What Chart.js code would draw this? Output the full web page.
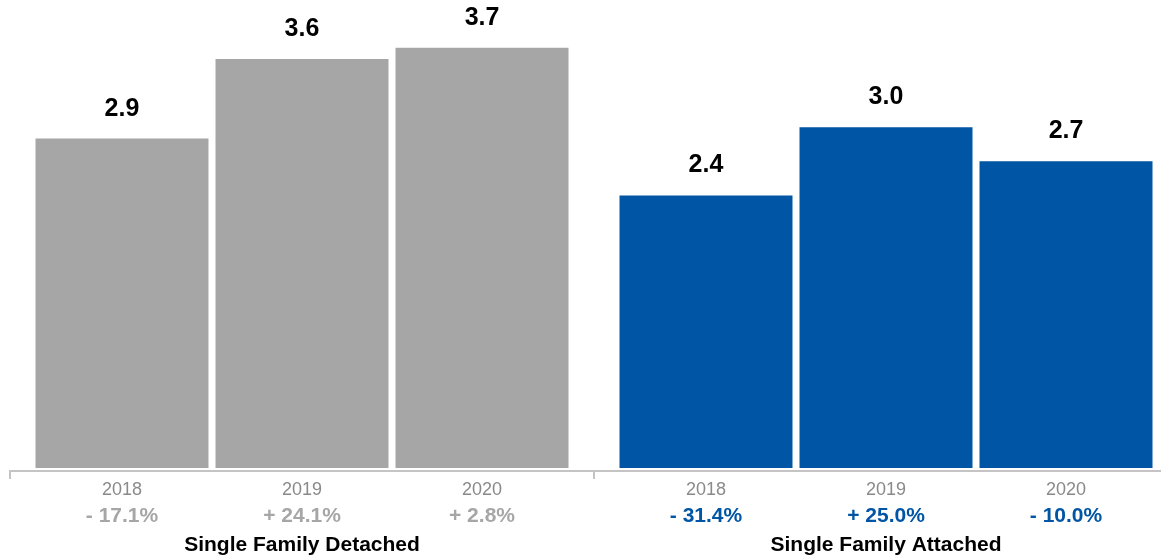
<!DOCTYPE html>
<html>
<head>
<meta charset="utf-8">
<script src="https://cdn.jsdelivr.net/npm/chart.js@4/dist/chart.umd.min.js"></script>
<style>
  html, body { margin: 0; padding: 0; background: #ffffff; }
  #frame { width: 1161px; height: 558px; overflow: hidden; position: relative; }
  #plot { width: 1178px; height: 558px; position: absolute; left: 0; top: 0; }
</style>
</head>
<body>
<div id="frame"><div id="plot"><canvas id="chart"></canvas></div></div>
<script>
// Housing starts by type, with year-over-year change
const groups = ['Single Family Detached', 'Single Family Attached'];
const years = ['2018', '2019', '2020'];
const detached = [2.9, 3.6, 3.7];
const attached = [2.4, 3.0, 2.7];
const detachedChange = ['- 17.1%', '+ 24.1%', '+ 2.8%'];
const attachedChange = ['- 31.4%', '+ 25.0%', '- 10.0%'];

const GRAY = '#a6a6a6';
const BLUE = '#0055a4';
const FONT = '"Liberation Sans", Arial, Helvetica, sans-serif';

const datasets = years.map((yr, i) => ({
  label: yr,
  data: [detached[i], attached[i]],
  backgroundColor: [GRAY, BLUE],
  borderWidth: 0,
  categoryPercentage: 0.9247,
  barPercentage: 0.961
}));

const changes = [detachedChange, attachedChange];
const changeColors = [GRAY, BLUE];

const annotate = {
  id: 'annotate',
  afterDatasetsDraw(chart) {
    const ctx = chart.ctx;
    const area = chart.chartArea;
    const xs = chart.scales.x;
    ctx.save();

    // baseline with group separators
    const axisY = area.bottom + 3;
    ctx.strokeStyle = '#c4c4c4';
    ctx.lineWidth = 2;
    ctx.beginPath();
    ctx.moveTo(area.left - 1, axisY);
    ctx.lineTo(area.right, axisY);
    const bounds = [xs.left, (xs.left + xs.right) / 2];
    bounds.forEach(bx => {
      ctx.moveTo(bx, axisY - 1);
      ctx.lineTo(bx, axisY + 8);
    });
    ctx.stroke();

    ctx.textAlign = 'center';
    chart.data.datasets.forEach((ds, i) => {
      const meta = chart.getDatasetMeta(i);
      meta.data.forEach((bar, j) => {
        const v = ds.data[j];
        // value above the bar
        ctx.fillStyle = '#000000';
        ctx.font = 'bold 25px ' + FONT;
        ctx.textBaseline = 'alphabetic';
        ctx.fillText(v.toFixed(1), bar.x, bar.y - 23);

        // year under the bar
        ctx.fillStyle = '#8a8a8a';
        ctx.font = '18px ' + FONT;
        ctx.textBaseline = 'middle';
        ctx.fillText(years[i], bar.x, area.bottom + 22);

        // change vs previous year
        ctx.fillStyle = changeColors[j];
        ctx.font = 'bold 21px ' + FONT;
        ctx.fillText(changes[j][i], bar.x, area.bottom + 48);
      });
    });

    // group names
    ctx.fillStyle = '#000000';
    ctx.font = 'bold 21px ' + FONT;
    ctx.textBaseline = 'middle';
    groups.forEach((g, j) => {
      ctx.fillText(g, xs.getPixelForValue(j), area.bottom + 77);
    });
    ctx.restore();
  }
};

new Chart(document.getElementById('chart'), {
  type: 'bar',
  data: { labels: groups, datasets: datasets },
  options: {
    responsive: true,
    maintainAspectRatio: false,
    animation: false,
    layout: { padding: { left: 10, right: 0, top: 0, bottom: 90 } },
    plugins: {
      legend: { display: false },
      tooltip: { enabled: false }
    },
    scales: {
      x: {
        grid: { display: false, drawTicks: false },
        border: { display: false },
        ticks: { display: false }
      },
      y: {
        display: false,
        min: 0,
        max: 4.12
      }
    }
  },
  plugins: [annotate]
});
</script>
</body>
</html>
